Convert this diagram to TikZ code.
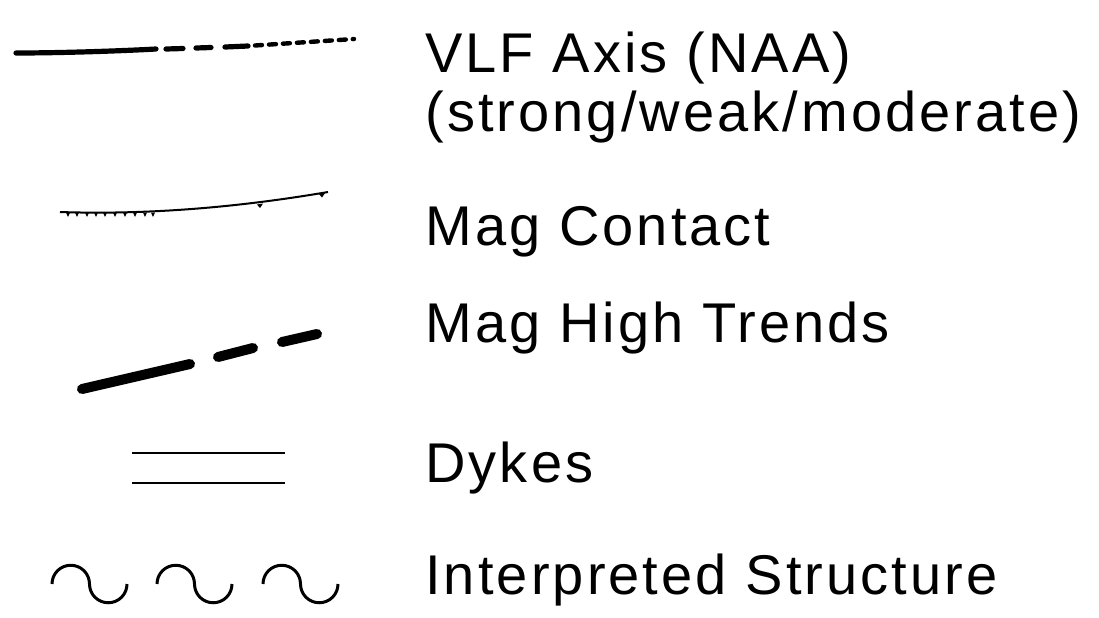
\documentclass[tikz,border=0pt]{standalone}
\usepackage{fontspec}
\setmainfont{Liberation Sans}[LetterSpace=5.5]
\begin{document}
\begin{tikzpicture}[x=0.5pt,y=-0.5pt,
  lbl/.style={anchor=base west,inner sep=0pt,font=\fontsize{28}{30}\selectfont},
  vlf/.style={line width=2.6pt,line cap=round},
  vlfsmall/.style={line width=2.2pt,line cap=round,dash pattern=on 3.5pt off 3.5pt},
  contact/.style={line width=1pt},
  tick/.style={fill=black},
  maghigh/.style={line width=5pt,line cap=round},
  dyke/.style={line width=0.8pt},
  wave/.style={line width=1.5pt}]
\useasboundingbox (0,0) rectangle (1099,617);
% VLF axis
\draw[vlf] (16,53) .. controls (60,53) and (120,51) .. (156,49);
\draw[vlf] (166,49) -- (183,48.5);
\draw[vlf] (196,48) -- (211,47.5);
\draw[vlf] (225,47) -- (248,46);
\draw[vlfsmall] (255,45.5) -- (354,39);
\node[lbl] (t1) at (425,72) {VLF Axis (NAA)};
\node[lbl] (t2) at (425,131) {(strong/weak/moderate)};
% Mag contact
\draw[contact] (60,212) .. controls (150,215) and (240,207) .. (328,192);
\foreach \x in {68,77,87,96,105,115,125,135,145,153}
  \fill[tick] ({\x-2},212.5) -- ({\x+2},212.5) -- (\x,217) -- cycle;
\fill[tick] (257,204.5) -- (263,203.5) -- (260,208) -- cycle;
\fill[tick] (319,194) -- (325,193) -- (322,197.5) -- cycle;
\node[lbl] (t3) at (425,245) {Mag Contact};
% Mag high trends
\draw[maghigh] (82,389) -- (190,364);
\draw[maghigh] (218,357) -- (253,348);
\draw[maghigh] (282,342) -- (317,334);
\node[lbl] (t4) at (425,342) {Mag High Trends};
% Dykes
\draw[dyke] (132,453) -- (285,453);
\draw[dyke] (132,483) -- (285,483);
\node[lbl] (t5) at (425,482) {Dykes};
% Interpreted structure
\foreach \x in {52,157,263}
  \draw[wave] (\x,584) .. controls (\x,573.6) and ({\x+8.4},565.25) .. ({\x+18.75},565.25)
    .. controls ({\x+29.1},565.25) and ({\x+37.5},573.6) .. ({\x+37.5},584)
    .. controls ({\x+37.5},594.4) and ({\x+45.9},602.75) .. ({\x+56.25},602.75)
    .. controls ({\x+66.6},602.75) and ({\x+75},594.4) .. ({\x+75},584);
\node[lbl] (t6) at (425,594) {Interpreted Structure};
\end{tikzpicture}
\end{document}
